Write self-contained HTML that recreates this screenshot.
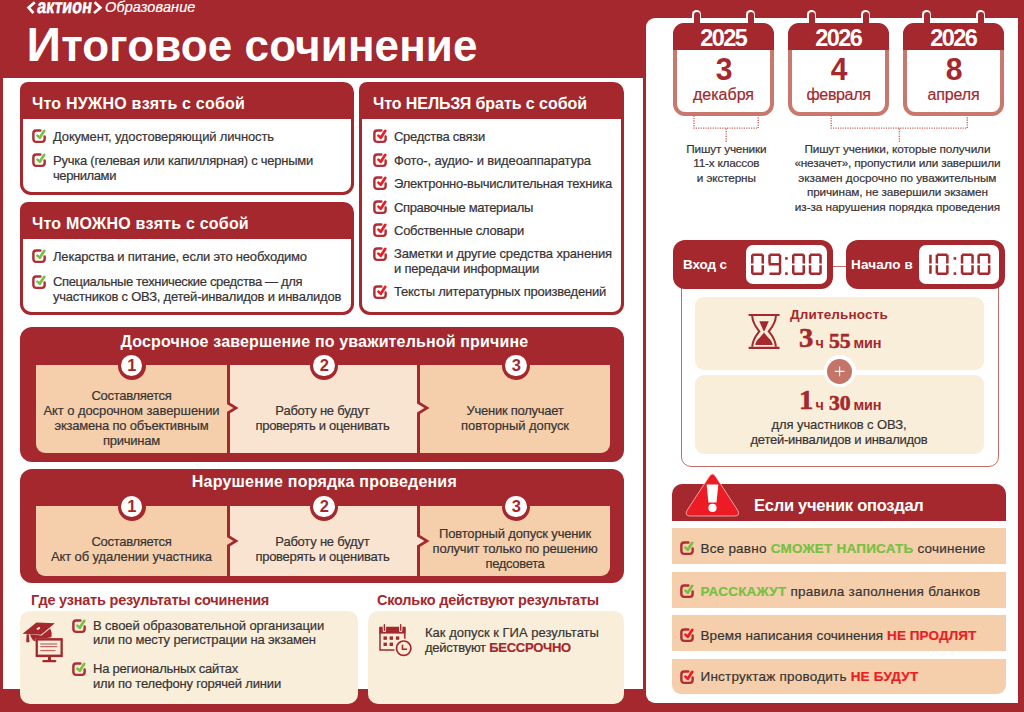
<!DOCTYPE html>
<html lang="ru"><head><meta charset="utf-8">
<style>
*{box-sizing:border-box;margin:0;padding:0}
html,body{width:1024px;height:712px;overflow:hidden}
body{background:#a4282d;font-family:"Liberation Sans",sans-serif;color:#333;position:relative;font-size:13px;line-height:15px}
.abs{position:absolute}
.t{position:absolute;white-space:nowrap;color:#383434;-webkit-text-stroke:0.2px}
.c{position:absolute;white-space:nowrap;color:#383434;transform:translateX(-50%);-webkit-text-stroke:0.2px}
.w{color:#fff}.b{font-weight:bold}.r{color:#a4282d}
.h{font-size:16px;line-height:18px;font-weight:bold;color:#fff;-webkit-text-stroke:0}
.b{-webkit-text-stroke:0}
.box{position:absolute;border-radius:8px 10.5px 11px 11px;background:#a4282d}
.box .hd{position:absolute;left:2.7px;bottom:2.8px;right:2.7px;background:#fff;border-radius:0 0 8.3px 8.3px}
.cb{position:absolute;width:14.6px;height:14.6px;overflow:visible}
.cream{position:absolute;background:#f9eed9;border-radius:10px}
.rbox{position:absolute;background:#a4282d;border-radius:12px}
.cell{position:absolute;background:#f5cfab}
.cell.l{background:#f9e4d2}
.num{position:absolute;width:28px;height:28px;border-radius:50%;background:#a4282d}
.num i{position:absolute;left:3.2px;top:3.2px;width:21.6px;height:21.6px;border-radius:50%;background:#fff;font-style:normal;font-weight:bold;color:#a4282d;font-size:16.5px;line-height:21.8px;text-align:center;letter-spacing:-0.5px}
.row{position:absolute;left:672.4px;width:333.2px;height:36px;background:#f5cfab}
.g{color:#76c043;font-weight:bold}.br{color:#ed1c24;font-weight:bold}
.cal{position:absolute;width:101px;height:92.5px;top:23px}
.cal .bd{position:absolute;left:0;top:0;width:101px;height:92.5px;border:4px solid #c8786c;border-radius:12px;background:#fff}
.cal .hd{position:absolute;left:0;top:0;width:101px;height:27px;background:#a4282d;border-radius:11px 11px 0 0}
.ser{font-family:"Liberation Serif",serif;font-weight:bold;color:#a4282d;-webkit-text-stroke:0.55px #a4282d;transform-origin:0 50%;transform:scaleX(1.06)}
svg{position:absolute;overflow:visible}
</style></head><body>
<svg width="0" height="0" style="position:absolute"><defs>
<g id="cbg"><path d="M8.6 1.6H4.2a2.8 2.8 0 0 0-2.8 2.8v6a2.8 2.8 0 0 0 2.8 2.8h6a2.8 2.8 0 0 0 2.8-2.8V7.6" fill="none" stroke="#b02f37" stroke-width="2.5" stroke-linecap="round"></path><path d="M5.6 6.8l2.4 2.3 4.6-7.2" fill="none" stroke="#7ac143" stroke-width="2.8" stroke-linecap="round" stroke-linejoin="round"></path></g>
<g id="cbr"><path d="M8.6 1.6H4.2a2.8 2.8 0 0 0-2.8 2.8v6a2.8 2.8 0 0 0 2.8 2.8h6a2.8 2.8 0 0 0 2.8-2.8V7.6" fill="none" stroke="#b02f37" stroke-width="2.5" stroke-linecap="round"></path><path d="M5.6 6.8l2.4 2.3 4.6-7.2" fill="none" stroke="#ed1c24" stroke-width="2.8" stroke-linecap="round" stroke-linejoin="round"></path></g>
</defs></svg>

<!-- white panels -->
<div class="abs" style="left:3px;top:78px;width:639.6px;height:611px;background:#fff"></div>
<div class="abs" style="left:645.6px;top:18px;width:372.9px;height:684.7px;background:#fff;border-radius:9px 0 0 9px"></div>

<!-- logo + title -->
<svg style="left:0;top:0" width="220" height="20"><path d="M34.8 2.3L28.6 7.7L33.4 13M94.6 2.3L100.4 7.7L94 13" fill="none" stroke="#fff" stroke-width="2.7"></path></svg>
<div class="t w b" style="left:36px;top:-5.4px;font-size:20px;line-height:22px;transform-origin:0 100%;transform:scaleX(.81) skewX(-9deg);-webkit-text-stroke:0.45px #fff">актион</div>
<div class="t w" style="left: 105px; top: -1.6px; font-size: 14.5px; font-style: italic; line-height: 18px; letter-spacing: 0.11px;">Образование</div>
<div class="t w b" style="left: 26.6px; top: 19px; font-size: 44px; line-height: 52px; letter-spacing: 0.11px;"><span style="font-size:48px">И</span>тоговое сочинение</div>

<div class="box" style="left:20px;top:82.4px;width:334px;height:112.6px"><div class="hd" style="top:36.6px"></div></div>
<div class="t h" style="left: 32px; top: 95.2px; letter-spacing: 0.21px;">Что НУЖНО взять с собой</div>
<svg class="cb" style="left:31.5px;top:129px" viewBox="0 0 15 15"><use href="#cbg"></use></svg><div class="t" style="left: 53px; top: 128.7px; letter-spacing: -0.15px;">Документ, удостоверяющий личность</div>
<svg class="cb" style="left:31.5px;top:153px" viewBox="0 0 15 15"><use href="#cbg"></use></svg><div class="t" style="left: 53px; top: 153.2px; letter-spacing: -0.24px;">Ручка (гелевая или капиллярная) с черными</div>
<div class="t" style="left: 53px; top: 167.9px; letter-spacing: -0.41px;">чернилами</div>

<div class="box" style="left:20px;top:202.3px;width:334px;height:112.7px"><div class="hd" style="top:36.7px"></div></div>
<div class="t h" style="left: 32px; top: 215.2px; letter-spacing: 0.2px;">Что МОЖНО взять с собой</div>
<svg class="cb" style="left:31.5px;top:249px" viewBox="0 0 15 15"><use href="#cbg"></use></svg><div class="t" style="left: 53px; top: 248.5px; letter-spacing: -0.19px;">Лекарства и питание, если это необходимо</div>
<svg class="cb" style="left:31.5px;top:275px" viewBox="0 0 15 15"><use href="#cbg"></use></svg><div class="t" style="left: 53px; top: 274.3px; letter-spacing: -0.35px;">Специальные технические средства — для</div>
<div class="t" style="left: 53px; top: 289.2px; letter-spacing: -0.22px;">участников с ОВЗ, детей-инвалидов и инвалидов</div>

<div class="box" style="left:359px;top:82.4px;width:265px;height:232.6px"><div class="hd" style="top:36.6px"></div></div>
<div class="t h" style="left: 373px; top: 95.2px; letter-spacing: -0.06px;">Что НЕЛЬЗЯ брать с собой</div>
<svg class="cb" style="left:373px;top:129.3px" viewBox="0 0 15 15"><use href="#cbr"></use></svg><div class="t" style="left: 394px; top: 128.7px; letter-spacing: -0.27px;">Средства связи</div>
<svg class="cb" style="left:373px;top:153px" viewBox="0 0 15 15"><use href="#cbr"></use></svg><div class="t" style="left: 394px; top: 152.8px; letter-spacing: -0.14px;">Фото-, аудио- и видеоаппаратура</div>
<svg class="cb" style="left:373px;top:176.3px" viewBox="0 0 15 15"><use href="#cbr"></use></svg><div class="t" style="left: 394px; top: 175.9px; letter-spacing: -0.26px;">Электронно-вычислительная техника</div>
<svg class="cb" style="left:373px;top:200.2px" viewBox="0 0 15 15"><use href="#cbr"></use></svg><div class="t" style="left: 394px; top: 199.8px; letter-spacing: -0.37px;">Справочные материалы</div>
<svg class="cb" style="left:373px;top:223.4px" viewBox="0 0 15 15"><use href="#cbr"></use></svg><div class="t" style="left: 394px; top: 223.1px; letter-spacing: -0.26px;">Собственные словари</div>
<svg class="cb" style="left:373px;top:247.2px" viewBox="0 0 15 15"><use href="#cbr"></use></svg><div class="t" style="left: 394px; top: 246px; letter-spacing: -0.16px;">Заметки и другие средства хранения</div>
<div class="t" style="left: 394px; top: 260.9px; letter-spacing: -0.2px;">и передачи информации</div>
<svg class="cb" style="left:373px;top:285.2px" viewBox="0 0 15 15"><use href="#cbr"></use></svg><div class="t" style="left: 394px; top: 284.3px; letter-spacing: -0.22px;">Тексты литературных произведений</div>
<div class="rbox" style="left:20px;top:327.4px;width:604px;height:134.4px"></div>
<div class="c h" style="left: 324.4px; top: 333px; letter-spacing: 0.15px;">Досрочное завершение по уважительной причине</div>
<div class="cell" style="left:36.0px;top:365px;width:190.8px;height:88.0px;border-radius:0 0 0 9px"></div>
<div class="cell l" style="left:229.6px;top:365px;width:187.8px;height:88.0px;border-radius:0"></div>
<div class="cell" style="left:420.0px;top:365px;width:190.0px;height:88.0px;border-radius:0 0 9px 0"></div>
<svg style="left:0;top:0" width="1024" height="712"><path d="M228 401.5l10.6 6.5 -10.6 6.5z" fill="#a4282d"></path><path d="M226 403.5l7.4 4.5 -7.4 4.5z" fill="#f5cfab"></path></svg>
<svg style="left:0;top:0" width="1024" height="712"><path d="M419 401.5l10.6 6.5 -10.6 6.5z" fill="#a4282d"></path><path d="M417 403.5l7.4 4.5 -7.4 4.5z" fill="#f9e4d2"></path></svg>
<div class="num" style="left:117.5px;top:351.6px"><i>1</i></div>
<div class="num" style="left:310.0px;top:351.6px"><i>2</i></div>
<div class="num" style="left:502.0px;top:351.6px"><i>3</i></div>
<div class="c" style="left: 131.5px; top: 388px; letter-spacing: -0.3px;">Составляется</div>
<div class="c" style="left: 131.5px; top: 403px; letter-spacing: -0.07px;">Акт о досрочном завершении</div>
<div class="c" style="left: 131.5px; top: 418px; letter-spacing: -0.21px;">экзамена по объективным</div>
<div class="c" style="left: 131.5px; top: 433px; letter-spacing: -0.24px;">причинам</div>
<div class="c" style="left: 322.4px; top: 403px; letter-spacing: -0.22px;">Работу не будут</div>
<div class="c" style="left: 322.4px; top: 418px; letter-spacing: -0.26px;">проверять и оценивать</div>
<div class="c" style="left: 515px; top: 403px; letter-spacing: -0.26px;">Ученик получает</div>
<div class="c" style="left: 515px; top: 418px; letter-spacing: -0.06px;">повторный допуск</div>
<div class="rbox" style="left:20px;top:468.5px;width:604px;height:114.5px"></div>
<div class="c h" style="left: 324.4px; top: 473px; letter-spacing: 0.2px;">Нарушение порядка проведения</div>
<div class="cell" style="left:36.0px;top:506px;width:190.8px;height:70.3px;border-radius:0 0 0 9px"></div>
<div class="cell l" style="left:229.6px;top:506px;width:187.8px;height:70.3px;border-radius:0"></div>
<div class="cell" style="left:420.0px;top:506px;width:190.0px;height:70.3px;border-radius:0 0 9px 0"></div>
<svg style="left:0;top:0" width="1024" height="712"><path d="M228 534.6l10.6 6.5 -10.6 6.5z" fill="#a4282d"></path><path d="M226 536.6l7.4 4.5 -7.4 4.5z" fill="#f5cfab"></path></svg>
<svg style="left:0;top:0" width="1024" height="712"><path d="M419 534.6l10.6 6.5 -10.6 6.5z" fill="#a4282d"></path><path d="M417 536.6l7.4 4.5 -7.4 4.5z" fill="#f9e4d2"></path></svg>
<div class="num" style="left:117.5px;top:492.6px"><i>1</i></div>
<div class="num" style="left:310.0px;top:492.6px"><i>2</i></div>
<div class="num" style="left:502.0px;top:492.6px"><i>3</i></div>
<div class="c" style="left: 131.5px; top: 534px; letter-spacing: -0.3px;">Составляется</div>
<div class="c" style="left: 131.5px; top: 549px; letter-spacing: -0.12px;">Акт об удалении участника</div>
<div class="c" style="left: 322.4px; top: 534px; letter-spacing: -0.22px;">Работу не будут</div>
<div class="c" style="left: 322.4px; top: 549px; letter-spacing: -0.26px;">проверять и оценивать</div>
<div class="c" style="left: 515px; top: 526px; letter-spacing: -0.15px;">Повторный допуск ученик</div>
<div class="c" style="left: 515px; top: 541px; letter-spacing: -0.19px;">получит только по решению</div>
<div class="c" style="left: 515px; top: 556px; letter-spacing: -0.34px;">педсовета</div>

<div class="t b r" style="left: 31px; top: 591.7px; font-size: 14.5px; line-height: 16px; letter-spacing: -0.22px;">Где узнать результаты сочинения</div>
<div class="cream" style="left:20px;top:611px;width:338px;height:93px"></div>
<svg class="cb" style="left:71.5px;top:619px" viewBox="0 0 15 15"><use href="#cbg"></use></svg><div class="t" style="left: 93px; top: 618.2px; letter-spacing: -0.1px;">В своей образовательной организации</div>
<div class="t" style="left: 93px; top: 632.4px; letter-spacing: -0.16px;">или по месту регистрации на экзамен</div>
<svg class="cb" style="left:71.5px;top:662px" viewBox="0 0 15 15"><use href="#cbg"></use></svg><div class="t" style="left: 93px; top: 661.2px; letter-spacing: -0.22px;">На региональных сайтах</div>
<div class="t" style="left: 93px; top: 675.7px; letter-spacing: -0.19px;">или по телефону горячей линии</div>
<div class="t b r" style="left: 377px; top: 591.7px; font-size: 14.5px; line-height: 16px; letter-spacing: -0.23px;">Сколько действуют результаты</div>
<div class="cream" style="left:368px;top:611px;width:256px;height:93px"></div>
<div class="t" style="left: 425px; top: 625.4px; letter-spacing: 0.01px;">Как допуск к ГИА результаты</div>
<div class="t" style="left: 425px; top: 640px; letter-spacing: -0.25px;">действуют <b class="r">БЕССРОЧНО</b></div>

<svg style="left:0;top:0" width="1024" height="712">
<g fill="#a4282d">
<path d="M22.6 633.8L36.4 622.6L54.9 623.3L41 634.7Z"></path>
<path d="M30 634.3L41 635.6L50 628.3Q52.5 633 51.3 637.2L47 638.1H35.6V641.6Q31.5 640.5 30 634.3Z"></path>
<path d="M26.6 634.2h2.3l0.6 7.6q-1.6 1.2 -3.3 0z"></path>
<rect x="35.6" y="638.1" width="27.2" height="19"></rect>
<rect x="48" y="657" width="3" height="3.4"></rect>
<rect x="42.3" y="660" width="14" height="2.2" rx="1"></rect>
</g>
<rect x="37.9" y="640.6" width="22.6" height="14" fill="#f9eed9"></rect>
<ellipse cx="38.4" cy="628.4" rx="1.9" ry="1.1" fill="#f9eed9" transform="rotate(-25 38.4 628.4)"></ellipse>
<path d="M50 628.3L41 635.6" stroke="#f9eed9" stroke-width="0.6"></path>
<g stroke="#b94a4e" stroke-width="1"><path d="M40.3 644h17M40.3 646.7h17M40.3 650.7h15.2"></path></g>
</svg>
<svg style="left:0;top:0" width="1024" height="712">
<path d="M380 627.6h24.8v22.3h-24.8z" fill="none" stroke="#a4282d" stroke-width="1.5"></path>
<rect x="379.3" y="627.6" width="26.2" height="6" fill="#a4282d"></rect>
<g stroke="#f9eed9" stroke-width="3.4" stroke-linecap="round"><path d="M384.4 625v5.4M400.7 625v5.4"></path></g>
<g stroke="#a4282d" stroke-width="1.4" stroke-linecap="round"><path d="M384.4 624.6v5.6M400.7 624.6v5.6"></path></g>
<g fill="#a4282d"><rect x="383.5" y="636.4" width="3.4" height="3.4"></rect><rect x="389.6" y="636.4" width="3.4" height="3.4"></rect><rect x="395.9" y="636.4" width="3.4" height="3.4"></rect><rect x="383.5" y="642.6" width="3.4" height="3.4"></rect><rect x="389.6" y="642.6" width="3.4" height="3.4"></rect></g>
<circle cx="403.7" cy="648.2" r="9.6" fill="#f9eed9"></circle>
<circle cx="403.7" cy="648.2" r="7.2" fill="#f9eed9" stroke="#a4282d" stroke-width="1.7"></circle>
<path d="M402.5 644.8v4.4h4.6" fill="none" stroke="#a4282d" stroke-width="1.6"></path>
</svg>
<div class="cal" style="left:673px"><div class="bd"></div><div class="hd"></div></div>
<div class="abs" style="left:691.80px;top:10.2px;width:9.6px;height:12.9px;background:#fff;border-radius:4.8px 4.8px 0 0"></div><div class="abs" style="left:693.60px;top:12px;width:6px;height:14px;background:#a4282d;border-radius:3px 3px 0 0"></div>
<div class="abs" style="left:745.80px;top:10.2px;width:9.6px;height:12.9px;background:#fff;border-radius:4.8px 4.8px 0 0"></div><div class="abs" style="left:747.60px;top:12px;width:6px;height:14px;background:#a4282d;border-radius:3px 3px 0 0"></div>
<div class="c w b" style="left: 723.3px; top: 25.6px; font-size: 23.5px; line-height: 24px; letter-spacing: -1.5px;">2025</div>
<div class="c b r" style="left:723.5px;top:52.1px;font-size:32px;line-height:34px;transform:translateX(-50%) scaleX(.94)">3</div>
<div class="c r" style="left: 723.5px; top: 85.4px; font-size: 16px; line-height: 20px;">декабря</div>
<div class="cal" style="left:788px"><div class="bd"></div><div class="hd"></div></div>
<div class="abs" style="left:806.80px;top:10.2px;width:9.6px;height:12.9px;background:#fff;border-radius:4.8px 4.8px 0 0"></div><div class="abs" style="left:808.60px;top:12px;width:6px;height:14px;background:#a4282d;border-radius:3px 3px 0 0"></div>
<div class="abs" style="left:860.80px;top:10.2px;width:9.6px;height:12.9px;background:#fff;border-radius:4.8px 4.8px 0 0"></div><div class="abs" style="left:862.60px;top:12px;width:6px;height:14px;background:#a4282d;border-radius:3px 3px 0 0"></div>
<div class="c w b" style="left: 838.3px; top: 25.6px; font-size: 23.5px; line-height: 24px; letter-spacing: -1.5px;">2026</div>
<div class="c b r" style="left:838.5px;top:52.1px;font-size:32px;line-height:34px;transform:translateX(-50%) scaleX(.94)">4</div>
<div class="c r" style="left: 838.5px; top: 85.4px; font-size: 16px; line-height: 20px; letter-spacing: -0.34px;">февраля</div>
<div class="cal" style="left:903px"><div class="bd"></div><div class="hd"></div></div>
<div class="abs" style="left:921.80px;top:10.2px;width:9.6px;height:12.9px;background:#fff;border-radius:4.8px 4.8px 0 0"></div><div class="abs" style="left:923.60px;top:12px;width:6px;height:14px;background:#a4282d;border-radius:3px 3px 0 0"></div>
<div class="abs" style="left:975.80px;top:10.2px;width:9.6px;height:12.9px;background:#fff;border-radius:4.8px 4.8px 0 0"></div><div class="abs" style="left:977.60px;top:12px;width:6px;height:14px;background:#a4282d;border-radius:3px 3px 0 0"></div>
<div class="c w b" style="left: 953.3px; top: 25.6px; font-size: 23.5px; line-height: 24px; letter-spacing: -1.5px;">2026</div>
<div class="c b r" style="left:953.5px;top:52.1px;font-size:32px;line-height:34px;transform:translateX(-50%) scaleX(.94)">8</div>
<div class="c r" style="left: 953.5px; top: 85.4px; font-size: 16px; line-height: 20px; letter-spacing: -0.14px;">апреля</div>

<svg style="left:0;top:0" width="1024" height="712"><g fill="none" stroke="#c9625b" stroke-width="1.4" stroke-dasharray="1.2 1.2">
<path d="M694 115.5v12.6h64.2v-12.6M726.2 128.6v14"></path>
<path d="M831.2 115.5v12.6h136.1v-12.6M899.4 128.6v14"></path></g></svg>
<div class="c" style="left: 726.3px; top: 141.9px; font-size: 11.8px; letter-spacing: -0.2px;">Пишут ученики</div>
<div class="c" style="left: 726.3px; top: 156.4px; font-size: 11.8px; letter-spacing: -0.24px;">11-х классов</div>
<div class="c" style="left: 726.3px; top: 170.9px; font-size: 11.8px; letter-spacing: -0.15px;">и экстерны</div>
<div class="c" style="left: 897.4px; top: 141.9px; font-size: 11.8px; letter-spacing: -0.1px;">Пишут ученики, которые получили</div>
<div class="c" style="left: 897.4px; top: 156.4px; font-size: 11.8px; letter-spacing: -0.18px;">«незачет», пропустили или завершили</div>
<div class="c" style="left: 897.4px; top: 170.9px; font-size: 11.8px; letter-spacing: -0.04px;">экзамен досрочно по уважительным</div>
<div class="c" style="left: 897.4px; top: 185.4px; font-size: 11.8px; letter-spacing: -0.13px;">причинам, не завершили экзамен</div>
<div class="c" style="left: 897.4px; top: 199.9px; font-size: 11.8px; letter-spacing: -0.09px;">из-за нарушения порядка проведения</div>

<div class="abs" style="left:681px;top:265.5px;width:318px;height:201.5px;border:1.8px solid #c16c68;border-radius:10px"></div>
<div class="rbox" style="left:673px;top:240px;width:160px;height:49px"></div>
<div class="rbox" style="left:846px;top:240px;width:159px;height:49px"></div>
<div class="abs" style="left:746px;top:245px;width:81px;height:39px;background:#fff;border-radius:7px"></div>
<div class="abs" style="left:919px;top:245px;width:80px;height:39px;background:#fff;border-radius:7px"></div>
<div class="t w b" style="left: 683px; top: 256.2px; font-size: 13.5px; line-height: 18px; letter-spacing: -0.11px;">Вход с</div>
<div class="t w b" style="left: 851px; top: 256.2px; font-size: 13.5px; line-height: 18px; letter-spacing: 0.13px;">Начало в</div>
<svg style="left:0;top:0" width="1024" height="712"><path d="M752.25 254.85L762.75 254.85M762.75 254.85L762.75 263.40M762.75 265.20L762.75 273.75M752.25 273.75L762.75 273.75M752.25 265.20L752.25 273.75M752.25 254.85L752.25 263.40M769.55 254.85L780.05 254.85M780.05 254.85L780.05 263.40M769.55 254.85L769.55 263.40M768.60 264.30L781.00 264.30M780.05 265.20L780.05 273.75M769.55 273.75L780.05 273.75M793.25 254.85L803.75 254.85M803.75 254.85L803.75 263.40M803.75 265.20L803.75 273.75M793.25 273.75L803.75 273.75M793.25 265.20L793.25 273.75M793.25 254.85L793.25 263.40M810.05 254.85L820.55 254.85M820.55 254.85L820.55 263.40M820.55 265.20L820.55 273.75M810.05 273.75L820.55 273.75M810.05 265.20L810.05 273.75M810.05 254.85L810.05 263.40" stroke="#a4282d" stroke-width="2.5" fill="none"></path><rect x="785.1" y="257.1" width="2.6" height="2.6" fill="#a4282d"></rect><rect x="785.1" y="272.3" width="2.6" height="2.6" fill="#a4282d"></rect><path d="M930.45 254.85L930.45 263.40M930.45 265.20L930.45 273.75M936.85 254.85L947.35 254.85M947.35 254.85L947.35 263.40M947.35 265.20L947.35 273.75M936.85 273.75L947.35 273.75M936.85 265.20L936.85 273.75M936.85 254.85L936.85 263.40M962.05 254.85L972.55 254.85M972.55 254.85L972.55 263.40M972.55 265.20L972.55 273.75M962.05 273.75L972.55 273.75M962.05 265.20L962.05 273.75M962.05 254.85L962.05 263.40M978.65 254.85L989.15 254.85M989.15 254.85L989.15 263.40M989.15 265.20L989.15 273.75M978.65 273.75L989.15 273.75M978.65 265.20L978.65 273.75M978.65 254.85L978.65 263.40" stroke="#a4282d" stroke-width="2.5" fill="none"></path><rect x="953.6" y="257.1" width="2.6" height="2.6" fill="#a4282d"></rect><rect x="953.6" y="272.3" width="2.6" height="2.6" fill="#a4282d"></rect></svg>

<div class="cream" style="left:695px;top:297px;width:289px;height:73px;border-radius:9px"></div>
<div class="cream" style="left:695px;top:375.2px;width:289px;height:78.8px;border-radius:9px"></div>
<div class="abs" style="left:823.6px;top:355.4px;width:32px;height:32px;border-radius:50%;background:#fff"></div>
<div class="abs" style="left:827px;top:358.8px;width:25.2px;height:25.2px;border-radius:50%;background:#c47567"></div>
<svg style="left:0;top:0" width="1024" height="712"><path d="M834.8 371.4h9.6M839.6 366.6v9.6" stroke="#fff" stroke-width="1.1"></path>
<g fill="none" stroke="#a4282d" stroke-width="2">
<path d="M748.6 315h30.9M748.6 347.9h30.9" stroke-width="2.2"></path>
<path d="M752.2 316C752.6 323.5 756 327 759.4 331.4C756 335.8 752.6 339.3 752.2 346.8"></path>
<path d="M775.9 316C775.5 323.5 772.1 327 768.7 331.4C772.1 335.8 775.5 339.3 775.9 346.8"></path>
</g>
<path d="M759.3 321.3H768.8L764.7 330.6Q764 331.9 763.3 330.6Z" fill="#a4282d"></path>
<path d="M764 332.2C766 336 771.5 339.5 772.7 344Q772.8 344.9 772 344.9H756Q755.2 344.9 755.3 344C756.5 339.5 762 336 764 332.2Z" fill="#a4282d"></path>
</svg>
<div class="t b r" style="left: 790px; top: 306.6px; font-size: 13.5px; line-height: 16px; letter-spacing: 0.15px;">Длительность</div>
<div class="t ser" style="left:798.5px;top:323px;font-size:27px;line-height:30px">3</div>
<div class="t b r" style="left:815.6px;top:334.5px;font-size:14.5px;line-height:16px">ч</div>
<div class="t ser" style="left:828.5px;top:329px;font-size:20.5px;line-height:24px">55</div>
<div class="t b r" style="left: 853.6px; top: 334.5px; font-size: 14.5px; line-height: 16px; letter-spacing: -0.27px;">мин</div>
<div class="t ser" style="left:799px;top:385.1px;font-size:27px;line-height:30px">1</div>
<div class="t b r" style="left:815.6px;top:396.6px;font-size:14.5px;line-height:16px">ч</div>
<div class="t ser" style="left:828.5px;top:391.1px;font-size:20.5px;line-height:24px">30</div>
<div class="t b r" style="left: 853.6px; top: 396.6px; font-size: 14.5px; line-height: 16px; letter-spacing: -0.27px;">мин</div>
<div class="c" style="left: 839px; top: 417px; letter-spacing: -0.08px;">для участников с ОВЗ,</div>
<div class="c" style="left: 839px; top: 432px; letter-spacing: -0.24px;">детей-инвалидов и инвалидов</div>

<div class="abs" style="left:672.4px;top:484.4px;width:333.2px;height:36.2px;background:#a4282d;border-radius:10px 10px 0 0"></div>
<svg style="left:0;top:0" width="1024" height="712">
<path d="M708.6 477.4Q712.4 470.6 716.2 477.4L737.8 510.5Q740.5 516 734.5 516H690.3Q684.3 516 687 510.5Z" fill="#ed1c24" stroke="#fbd9d4" stroke-width="0.7"></path>
<path d="M706.6 484.6h11.7l-1.8 18h-8.1z" fill="#fff"></path><circle cx="712.5" cy="507.8" r="4.1" fill="#fff"></circle>
</svg>
<div class="t h" style="left: 754px; top: 495.6px; font-size: 16.5px; letter-spacing: -0.26px;">Если ученик опоздал</div>
<div class="row" style="top:528px"></div>
<div class="row" style="top:572px"></div>
<div class="row" style="top:614.8px"></div>
<div class="row" style="top:658.5px;height:35.5px;border-radius:0 0 9px 9px"></div>
<svg class="cb" style="left:679.5px;top:540.5px" viewBox="0 0 15 15"><use href="#cbg"></use></svg><div class="t" style="left: 700.5px; top: 540.8px; font-size: 13.5px; line-height: 16px; letter-spacing: 0.22px;">Все равно <span class="g">СМОЖЕТ НАПИСАТЬ</span> сочинение</div>
<svg class="cb" style="left:679.5px;top:584px" viewBox="0 0 15 15"><use href="#cbg"></use></svg><div class="t" style="left: 700.5px; top: 583.8px; font-size: 13.5px; line-height: 16px; letter-spacing: 0.23px;"><span class="g">РАССКАЖУТ</span> правила заполнения бланков</div>
<svg class="cb" style="left:679.5px;top:627.5px" viewBox="0 0 15 15"><use href="#cbr"></use></svg><div class="t" style="left: 700.5px; top: 627.7px; font-size: 13.5px; line-height: 16px; letter-spacing: 0.09px;">Время написания сочинения <span class="br">НЕ ПРОДЛЯТ</span></div>
<svg class="cb" style="left:679.5px;top:669.5px" viewBox="0 0 15 15"><use href="#cbr"></use></svg><div class="t" style="left: 700.5px; top: 669.3px; font-size: 13.5px; line-height: 16px; letter-spacing: 0.22px;">Инструктаж проводить <span class="br">НЕ БУДУТ</span></div>
</body></html>
